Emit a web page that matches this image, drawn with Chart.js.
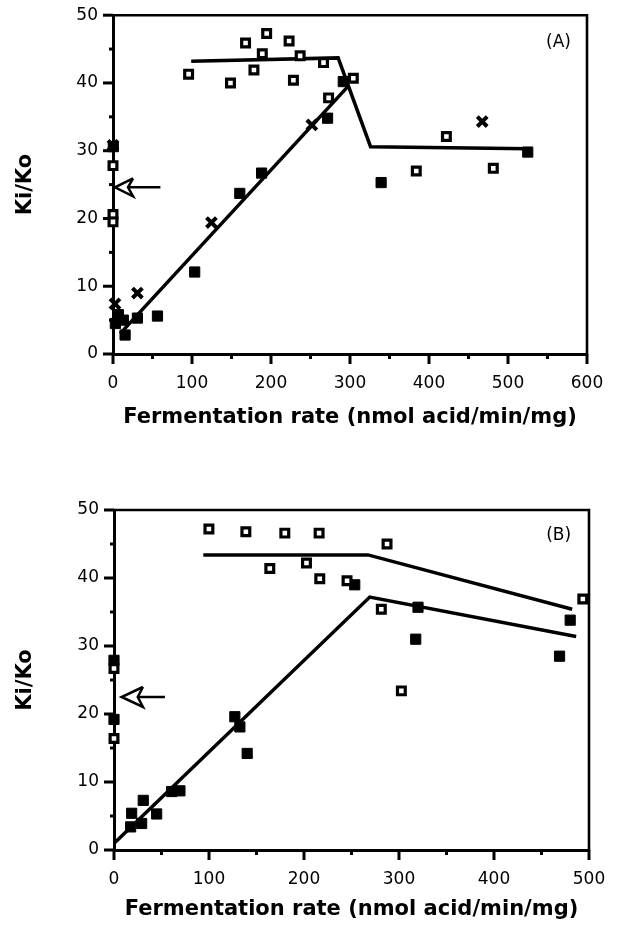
<!DOCTYPE html>
<html>
<head>
<meta charset="utf-8">
<script src="https://cdn.jsdelivr.net/npm/chart.js@4.4.1/dist/chart.umd.min.js"></script>
<style>
  html, body { margin: 0; padding: 0; background: #fff; }
  #wrap { position: relative; width: 623px; height: 928px; }
  canvas { position: absolute; left: 0; }
  #cA { top: 0; }
  #cB { top: 465px; }
</style>
</head>
<body>
<div id="wrap">
  <canvas id="cA" width="623" height="465"></canvas>
  <canvas id="cB" width="623" height="463"></canvas>
</div>
<script>
// ---------- Panel A data ----------
const openA = [[95.7,41.3],[148.7,40.0],[167.8,45.9],[194.5,47.3],[189,44.3],[178.4,41.9],[222.9,46.2],[236.9,44.0],[228.4,40.4],[266.5,43.0],[272.9,37.8],[304.2,40.7],[0,27.8],[0,20.6],[0,19.5],[422,32.1],[383.9,27.0],[481.4,27.4]];
const filledA = [[0.4,30.6],[291.5,40.2],[271.6,34.8],[188.1,26.7],[160.5,23.7],[103.4,12.1],[56.3,5.6],[30.9,5.3],[6.8,5.8],[13.1,5.0],[15.3,2.8],[3,4.5],[525,29.8],[339.4,25.3]];
const crossA = [[251.7,33.8],[124.6,19.4],[30.9,9.0],[2.5,7.4],[467.4,34.3],[0,30.8]];
const lineA1 = [[99,43.2],[285,43.7],[326,30.6],[526,30.3]];
const lineA2 = [[9,3.0],[297.5,39.5]];
const arrowHeadA = [[25.4,25.93],[2.5,24.6],[25.4,23.27],[19,24.6],[25.4,25.93]];
const arrowShaftA = [[19,24.6],[60,24.6]];
const xTicksA = [0,100,200,300,400,500,600];
const panelLabelA = {text: '(A)', x: 564, y: 46};

// ---------- Panel B data ----------
const openB = [[99.9,47.2],[138.8,46.8],[179.8,46.6],[215.9,46.6],[164,41.4],[202.6,42.2],[216.6,39.9],[245.3,39.6],[287.4,45.0],[281.4,35.4],[493.5,36.9],[302.5,23.4],[0,26.7],[0,16.4]];
const filledB = [[253.4,39.0],[320,35.7],[317.6,31.0],[480.2,33.8],[469,28.5],[0,27.9],[0,19.2],[127.2,19.6],[132.5,18.1],[140.2,14.2],[60.7,8.6],[69.4,8.7],[30.8,7.3],[18.6,5.4],[44.9,5.3],[29.1,3.9],[17.5,3.4]];
const lineB1 = [[94,43.4],[267.4,43.4],[482.3,35.4]];
const lineB2 = [[1,1.1],[269.2,37.2],[486.5,31.4]];
const arrowHeadB = [[30.5,23.97],[8,22.5],[30.5,21.03],[25,22.5],[30.5,23.97]];
const arrowShaftB = [[25,22.5],[53.6,22.5]];
const xTicksB = [0,100,200,300,400,500];
const panelLabelB = {text: '(B)', x: 468, y: 46.3};

const yTicks = [0,10,20,30,40,50];
const xTitle = 'Fermentation rate (nmol acid/min/mg)';
const yTitle = 'Ki/Ko';

const pts = a => a.map(p => ({x: p[0], y: p[1]}));

const frameTicks = {
  id: 'frameTicks',
  beforeDatasetsDraw(chart) {
    const {ctx, chartArea: a, scales: {x, y}} = chart;
    ctx.save();
    ctx.strokeStyle = '#000';
    ctx.lineCap = 'butt';
    ctx.lineWidth = 2.6;
    ctx.beginPath();
    ctx.moveTo(a.left - 1, a.top);
    ctx.lineTo(a.right, a.top);
    ctx.lineTo(a.right, a.bottom + 1);
    ctx.stroke();
    ctx.lineWidth = 3;
    x.ticks.forEach(t => {
      const px = x.getPixelForValue(t.value);
      const len = t.value % 100 === 0 ? 10 : 5;
      ctx.beginPath(); ctx.moveTo(px, a.bottom); ctx.lineTo(px, a.bottom + len); ctx.stroke();
    });
    y.ticks.forEach(t => {
      const py = y.getPixelForValue(t.value);
      const len = t.value % 10 === 0 ? 10 : 4;
      ctx.beginPath(); ctx.moveTo(a.left - len, py); ctx.lineTo(a.left, py); ctx.stroke();
    });
    ctx.restore();
  },
  afterDatasetsDraw(chart, args, opts) {
    const {ctx, scales: {x, y}} = chart;
    const lab = opts.label;
    if (!lab) return;
    ctx.save();
    ctx.fillStyle = '#000';
    ctx.font = '17px "DejaVu Sans"';
    ctx.textAlign = 'center';
    ctx.textBaseline = 'middle';
    ctx.fillText(lab.text, x.getPixelForValue(lab.x), y.getPixelForValue(lab.y));
    ctx.restore();
  }
};

function build(id, d) {
  const datasets = [
    {data: pts(d.line1), showLine: true, borderColor: '#000', borderWidth: 3.5, pointRadius: 0, clip: false, order: 5},
    {data: pts(d.line2), showLine: true, borderColor: '#000', borderWidth: 3.5, pointRadius: 0, clip: false, order: 5},
    {data: pts(d.arrowHead), showLine: true, borderColor: '#000', borderWidth: 2.5, pointRadius: 0, clip: false, order: 5},
    {data: pts(d.arrowShaft), showLine: true, borderColor: '#000', borderWidth: 2.5, pointRadius: 0, clip: false, order: 5},
    {data: pts(d.open), pointStyle: 'rect', pointRadius: 5.5, borderColor: '#000', backgroundColor: '#fff', pointBorderWidth: 3.2, clip: false, order: 1},
    {data: pts(d.filled), pointStyle: 'rect', pointRadius: 7.2, borderColor: '#000', backgroundColor: '#000', pointBorderWidth: 1, clip: false, order: 2}
  ];
  if (d.cross) datasets.push({data: pts(d.cross), pointStyle: 'crossRot', pointRadius: 7, borderColor: '#000', pointBorderWidth: 4, clip: false, order: 3});

  return new Chart(document.getElementById(id), {
    type: 'scatter',
    data: {datasets},
    plugins: [frameTicks],
    options: {
      responsive: false,
      animation: false,
      events: [],
      layout: {padding: {left: 0, top: d.padTop, right: d.padRight, bottom: 0}},
      plugins: {legend: {display: false}, tooltip: {enabled: false}, frameTicks: {label: d.label}},
      scales: {
        x: {
          type: 'linear', min: 0, max: d.xMax,
          afterFit: s => { s.height = d.xHeight; },
          afterBuildTicks: s => {
            const t = [];
            for (let v = 0; v <= d.xMax; v += 50) t.push({value: v});
            s.ticks = t;
          },
          border: {display: true, color: '#000', width: 3},
          grid: {display: true, drawOnChartArea: false, drawTicks: true, tickLength: 10, tickColor: 'rgba(0,0,0,0)'},
          ticks: {
            autoSkip: false, maxRotation: 0, padding: 9, color: '#000',
            font: {family: '"DejaVu Sans"', size: 17},
            callback: v => d.xTicks.includes(v) ? String(v) : ''
          },
          title: {display: true, text: xTitle, color: '#000', font: {family: '"DejaVu Sans"', size: 21, weight: 'bold'}, padding: {top: 0, bottom: d.xTitlePad}}
        },
        y: {
          type: 'linear', min: 0, max: 50,
          afterFit: s => { s.width = d.yWidth; },
          afterBuildTicks: s => {
            const t = [];
            for (let v = 0; v <= 50; v += 5) t.push({value: v});
            s.ticks = t;
          },
          border: {display: true, color: '#000', width: 3},
          grid: {display: true, drawOnChartArea: false, drawTicks: true, tickLength: 10, tickColor: 'rgba(0,0,0,0)'},
          ticks: {
            autoSkip: false, padding: 5, color: '#000',
            font: {family: '"DejaVu Sans"', size: 17},
            callback: v => yTicks.includes(v) ? String(v) : ''
          },
          title: {display: true, text: yTitle, color: '#000', font: {family: '"DejaVu Sans"', size: 21, weight: 'bold'}, padding: {top: 13, bottom: 0}}
        }
      }
    }
  });
}

build('cA', {
  open: openA, filled: filledA, cross: crossA, line1: lineA1, line2: lineA2,
  arrowHead: arrowHeadA, arrowShaft: arrowShaftA, xTicks: xTicksA, xMax: 600,
  label: panelLabelA, padTop: 15, padRight: 36, xHeight: 111, yWidth: 113, xTitlePad: 35
});
build('cB', {
  open: openB, filled: filledB, line1: lineB1, line2: lineB2,
  arrowHead: arrowHeadB, arrowShaft: arrowShaftB, xTicks: xTicksB, xMax: 500,
  label: panelLabelB, padTop: 45, padRight: 34, xHeight: 78, yWidth: 114, xTitlePad: 6
});
</script>
</body>
</html>
